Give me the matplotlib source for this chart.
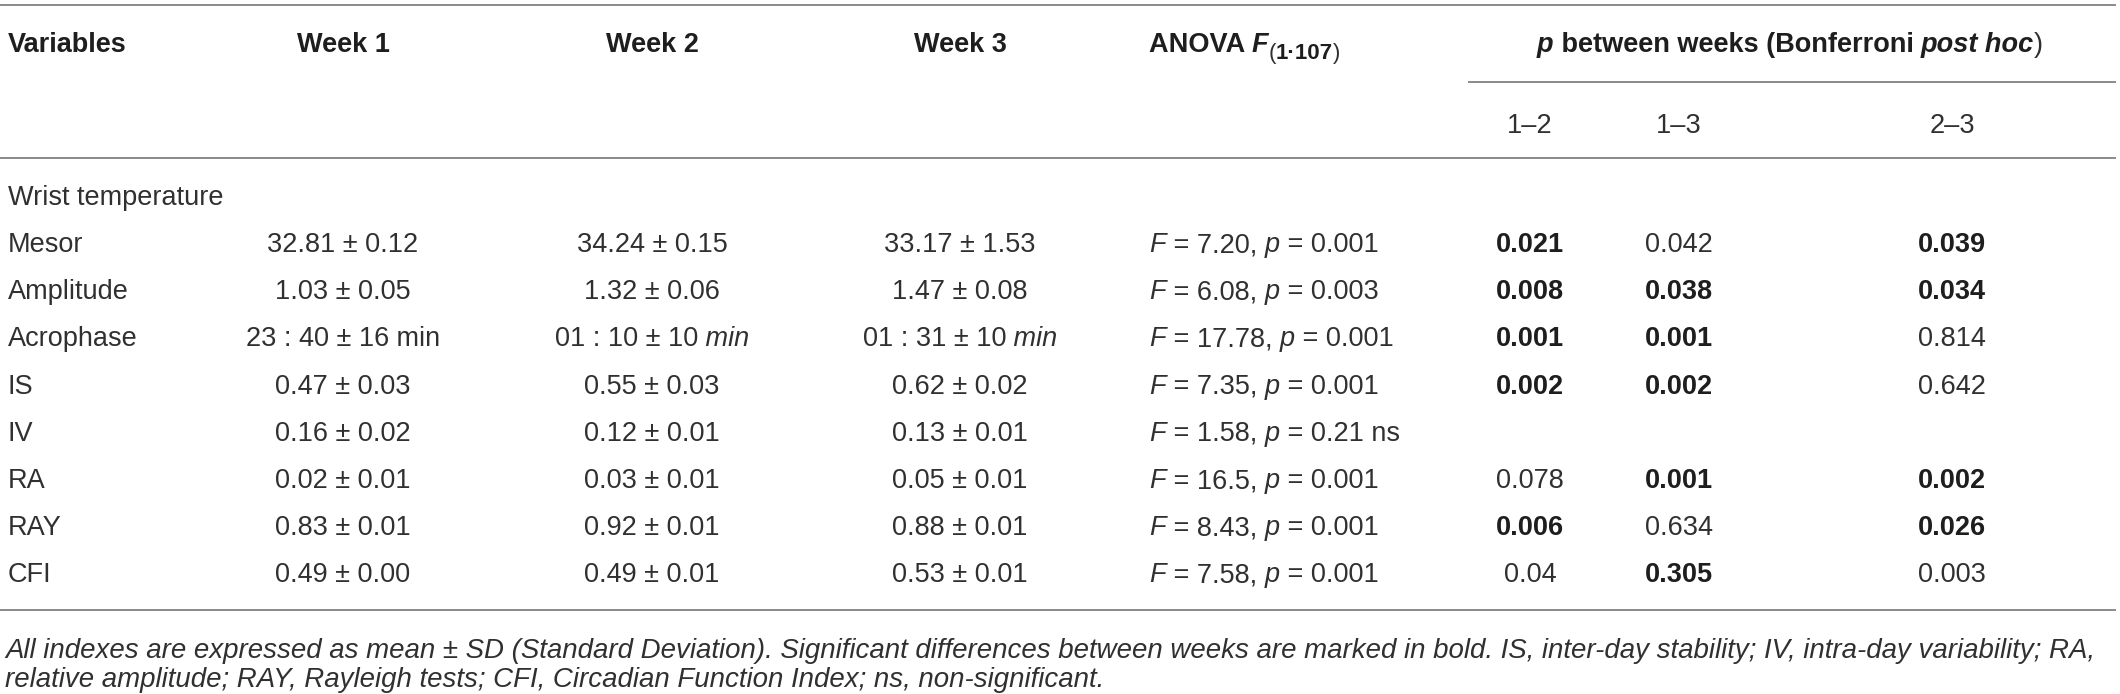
import matplotlib
matplotlib.use("Agg")
import matplotlib.pyplot as plt

# table content
variables = ["Mesor", "Amplitude", "Acrophase", "IS", "IV", "RA", "RAY", "CFI"]
week1 = ["32.81 ± 0.12", "1.03 ± 0.05", "23 : 40 ± 16", "0.47 ± 0.03",
         "0.16 ± 0.02", "0.02 ± 0.01", "0.83 ± 0.01", "0.49 ± 0.00"]
week2 = ["34.24 ± 0.15", "1.32 ± 0.06", "01 : 10 ± 10", "0.55 ± 0.03",
         "0.12 ± 0.01", "0.03 ± 0.01", "0.92 ± 0.01", "0.49 ± 0.01"]
week3 = ["33.17 ± 1.53", "1.47 ± 0.08", "01 : 31 ± 10", "0.62 ± 0.02",
         "0.13 ± 0.01", "0.05 ± 0.01", "0.88 ± 0.01", "0.53 ± 0.01"]
min_italic = [False, True, True]  # "min" unit on the acrophase row
anova_F = ["7.20", "6.08", "17.78", "7.35", "1.58", "16.5", "8.43", "7.58"]
anova_p = ["0.001", "0.003", "0.001", "0.001", "0.21 ns", "0.001", "0.001", "0.001"]
p12 = ["0.021", "0.008", "0.001", "0.002", "", "0.078", "0.006", "0.04"]
p13 = ["0.042", "0.038", "0.001", "0.002", "", "0.001", "0.634", "0.305"]
p23 = ["0.039", "0.034", "0.814", "0.642", "", "0.002", "0.026", "0.003"]
p12_bold = [True, True, True, True, False, False, True, False]
p13_bold = [False, True, True, True, False, True, False, True]
p23_bold = [True, True, False, False, False, True, True, False]
pair_labels = ["1–2", "1–3", "2–3"]
group_label = "Wrist temperature"
footnote = ["All indexes are expressed as mean ± SD (Standard Deviation). Significant differences "
            "between weeks are marked in bold. IS, inter-day stability; IV, intra-day variability; RA,",
            "relative amplitude; RAY, Rayleigh tests; CFI, Circadian Function Index; ns, non-significant."]

W, H = 2120, 694
FONT = ["Liberation Sans", "DejaVu Sans"]
FS = 19.5
TXT = "#303030"
TXT_BOLD = "#1e1e1e"
RULE = "#8a8a8a"

fig = plt.figure(figsize=(W / 100, H / 100), dpi=100)
ax = fig.add_axes([0, 0, 1, 1])
ax.set_xlim(0, W)
ax.set_ylim(H, 0)
ax.axis("off")
renderer = fig.canvas.get_renderer()


def props(st):
    return dict(family=FONT, fontsize=st.get("size", FS),
                color=TXT_BOLD if st.get("bold") else TXT,
                fontweight="bold" if st.get("bold") else "normal",
                fontstyle="italic" if st.get("italic") else "normal")


def measure(s, st):
    t = ax.text(0, 0, "|" + s + "|", **props(st))
    w = t.get_window_extent(renderer).width
    t.remove()
    t = ax.text(0, 0, "||", **props(st))
    w -= t.get_window_extent(renderer).width
    t.remove()
    return w


def draw_runs(x, y, runs, ha="left"):
    widths = [measure(s, st) for s, st in runs]
    x0 = x - sum(widths) / 2 if ha == "center" else x
    for (s, st), w in zip(runs, widths):
        ax.text(x0, y + st.get("dy", 0), s, va="baseline", ha="left", **props(st))
        x0 += w


N, B, I, BI = {}, {"bold": True}, {"italic": True}, {"bold": True, "italic": True}
base = 10  # baseline offset from row centre

# rules
ax.plot([0, 2115], [5, 5], color=RULE, lw=1.4)
ax.plot([1469, 2115], [82, 82], color=RULE, lw=1.4)
ax.plot([0, 2115], [158, 158], color=RULE, lw=1.4)
ax.plot([0, 2115], [610, 610], color=RULE, lw=1.4)

# header
week_x = [343, 652, 960]
anova_x = 1149
pair_x = [1530, 1679, 1952]
hy = 42 + base
draw_runs(8, hy, [("Variables", B)])
for i, x in enumerate(week_x):
    draw_runs(x, hy, [(f"Week {i + 1}", B)], ha="center")
draw_runs(anova_x, hy, [("ANOVA ", B), ("F", BI),
                        ("(", {"size": 16, "dy": 7}),
                        ("1·107", {"bold": True, "size": 16, "dy": 7}),
                        (")", {"size": 16, "dy": 7})])
draw_runs(1790, hy, [("p", BI), (" between weeks (Bonferroni ", B), ("post hoc", BI), (")", N)],
          ha="center")
for x, lab in zip(pair_x, pair_labels):
    draw_runs(x, 123 + base, [(lab, N)], ha="center")

# body
draw_runs(8, 195 + base, [(group_label, N)])
for r, var in enumerate(variables):
    y = 242 + 47.2 * r + base
    draw_runs(8, y, [(var, N)])
    for c, col in enumerate([week1, week2, week3]):
        runs = [(col[r], N)]
        if var == "Acrophase":
            runs.append((" min", I if min_italic[c] else N))
        draw_runs(week_x[c], y, runs, ha="center")
    draw_runs(anova_x, y, [("F", I), (f" = {anova_F[r]}, ", N), ("p", I), (f" = {anova_p[r]}", N)])
    for x, vals, bold in zip(pair_x, [p12, p13, p23], [p12_bold, p13_bold, p23_bold]):
        if vals[r]:
            draw_runs(x, y, [(vals[r], B if bold[r] else N)], ha="center")

# footnote
for k, line in enumerate(footnote):
    draw_runs(5, 648 + 29 * k + base, [(line, {"italic": True, "size": 19.9})])

fig.savefig("out.png", dpi=100)
